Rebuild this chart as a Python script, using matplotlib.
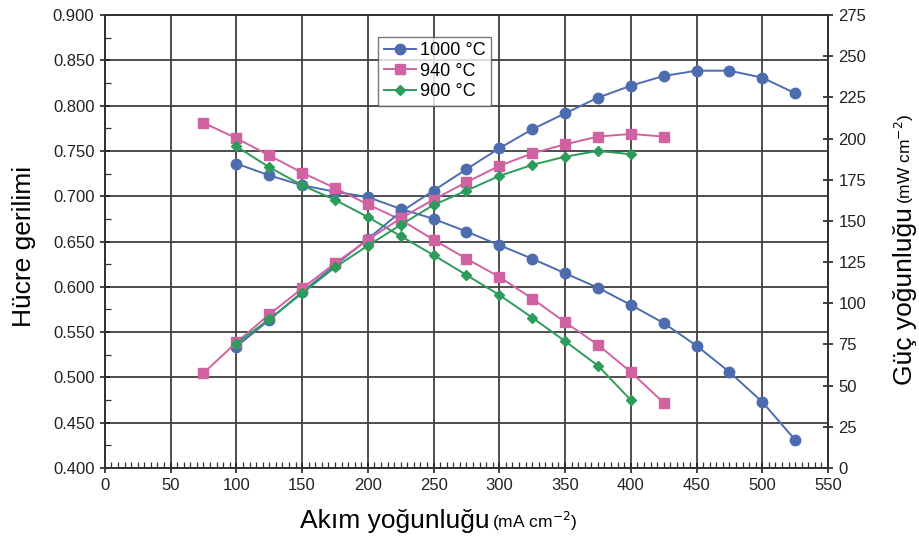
import matplotlib.pyplot as plt
from matplotlib.ticker import MultipleLocator

plt.rcParams["font.family"] = ["Liberation Sans", "DejaVu Sans"]

# current density (mA cm-2)
current_1000 = [100, 125, 150, 175, 200, 225, 250, 275, 300, 325, 350, 375, 400, 425, 450, 475, 500, 525]
current_940 = [75, 100, 125, 150, 175, 200, 225, 250, 275, 300, 325, 350, 375, 400, 425]
current_900 = [100, 125, 150, 175, 200, 225, 250, 275, 300, 325, 350, 375, 400]

# cell voltage (V)
volt_1000 = [0.736, 0.723, 0.712, 0.705, 0.699, 0.686, 0.675, 0.661, 0.646, 0.631, 0.615, 0.599,
             0.580, 0.560, 0.535, 0.506, 0.473, 0.431]
volt_940 = [0.781, 0.764, 0.745, 0.726, 0.709, 0.691, 0.674, 0.652, 0.631, 0.611, 0.587, 0.561,
            0.536, 0.506, 0.472]
volt_900 = [0.755, 0.732, 0.712, 0.696, 0.677, 0.656, 0.635, 0.613, 0.591, 0.566, 0.540, 0.513, 0.475]

# power density (mW cm-2)
power_1000 = [73.7, 89.9, 106.8, 123.0, 139.0, 155.5, 168.4, 181.4, 194.1, 205.6, 215.3, 224.8,
              232.1, 238.0, 241.2, 241.2, 237.0, 227.5]
power_940 = [57.6, 76.2, 93.2, 109.0, 124.2, 138.5, 151.6, 163.0, 173.5, 183.4, 191.0, 196.5,
             201.2, 202.8, 201.2]
power_900 = [75.5, 90.3, 106.1, 121.8, 135.0, 147.6, 159.7, 168.4, 177.3, 184.0, 189.0, 192.5, 190.5]

labels = ["1000 °C", "940 °C", "900 °C"]
colors = ["#4d6cb0", "#d062a2", "#2c9c5b"]
markers = ["o", "s", "D"]
msizes = [7.5, 6.5, 4.8]

fig = plt.figure(figsize=(9.2, 5.44), dpi=100)
ax = fig.add_axes([0.114, 0.1397, 0.786, 0.8327])
ax2 = ax.twinx()

series = [
    (current_1000, volt_1000, power_1000),
    (current_940, volt_940, power_940),
    (current_900, volt_900, power_900),
]

handles = []
for (cur, volt, power), lab, col, mk, ms in zip(series, labels, colors, markers, msizes):
    (h,) = ax.plot(cur, volt, marker=mk, color=col, markersize=ms, linewidth=1.4, label=lab)
    ax2.plot(cur, power, marker=mk, color=col, markersize=ms, linewidth=1.4)
    handles.append(h)

ax.set_xlim(0, 550)
ax.set_ylim(0.4, 0.9)
ax2.set_ylim(0, 275)

ax.xaxis.set_major_locator(MultipleLocator(50))
ax.xaxis.set_minor_locator(MultipleLocator(5))
ax.yaxis.set_major_locator(MultipleLocator(0.05))
ax.yaxis.set_minor_locator(MultipleLocator(0.025))
ax.yaxis.set_major_formatter(plt.FormatStrFormatter("%.3f"))
ax2.yaxis.set_major_locator(MultipleLocator(25))

ax.grid(True, which="major", color="#404040", linewidth=1.3)
ax.set_axisbelow(True)

ax.tick_params(axis="both", which="major", direction="inout", length=7, width=1.2,
               labelsize=12, colors="#222222", pad=4)
ax.tick_params(axis="both", which="minor", direction="in", length=4, width=0.9, color="#333333")
ax2.tick_params(axis="y", which="major", direction="inout", length=7, width=1.2,
                labelsize=12, colors="#222222", pad=4)
for a in (ax, ax2):
    for sp in a.spines.values():
        sp.set_color("#333333")
        sp.set_linewidth(1.3)

big = 19
small = 12.5

ax.text(-0.112, 0.49, "Hücre gerilimi", transform=ax.transAxes, ha="center", va="center",
        rotation=90, fontsize=big)

# x label: large main text followed by smaller unit text
ax.text(0.532, -0.118, "Akım yoğunluğu", transform=ax.transAxes, ha="right", va="center",
        fontsize=big)
ax.text(0.536, -0.118, "(mA cm$^{-2}$)", transform=ax.transAxes, ha="left", va="center",
        fontsize=small)

# right label, built bottom-up
main_r = ax.text(1.106, 0.183, "Güç yoğunluğu", transform=ax.transAxes, ha="center",
                 va="bottom", rotation=90, fontsize=big)
fig.canvas.draw()
bb = main_r.get_window_extent().transformed(ax.transAxes.inverted())
ax.text(1.106, bb.y1 + 0.008, "(mW cm$^{-2}$)", transform=ax.transAxes, ha="center",
        va="bottom", rotation=90, fontsize=small)

leg = ax2.legend(handles=handles, loc="upper left", bbox_to_anchor=(0.378, 0.952),
                 fontsize=13, frameon=True, fancybox=False, edgecolor="#555555",
                 handlelength=1.8, handletextpad=0.2, borderpad=0.3, labelspacing=0.2,
                 borderaxespad=0.0)
leg.get_frame().set_linewidth(1.0)

fig.savefig("out.png", dpi=100)
